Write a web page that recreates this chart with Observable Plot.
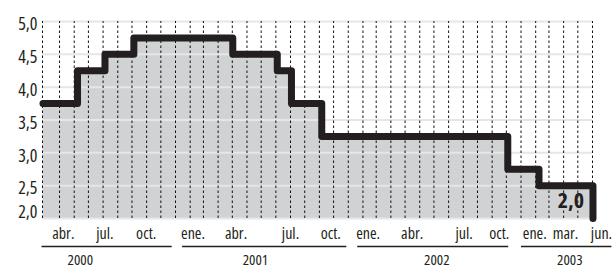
<!DOCTYPE html>
<html><head><meta charset="utf-8">
<script src="https://cdn.jsdelivr.net/npm/d3@7"></script>
<script src="https://cdn.jsdelivr.net/npm/@observablehq/plot@0.6"></script>
<style>html,body{margin:0;padding:0;background:#fff;}</style>
</head><body><div id="chart"></div>
<script>
// Step dates (change of rate) and rate values (%)
const stepDates = ["2000-03-27","2000-06-08","2000-08-05","2000-10-05","2001-05-02","2001-08-04","2001-09-03","2001-11-06","2002-12-04","2003-02-08","2003-06-02"];
const rates = [3.75, 4.25, 4.5, 4.75, 4.5, 4.25, 3.75, 3.25, 2.75, 2.5, 2.0];
const yTicks = [2, 2.5, 3, 3.5, 4, 4.5, 5];
const monthLabels = ["abr.","jul.","oct.","ene.","abr.","jul.","oct.","ene.","abr.","jul.","oct.","ene.","mar.","jun."];
const monthLabelDates = ["2000-05-09","2000-08-05","2000-10-31","2001-02-07","2001-05-09","2001-09-01","2001-11-25","2002-02-12","2002-05-16","2002-09-03","2002-11-16","2003-01-30","2003-04-05","2003-06-20"];
const years = ["2000","2001","2002","2003"];
const yearLabelDates = ["2000-06-14","2001-06-19","2002-07-07","2003-04-14"];
const yearStart = ["2000-03-25","2001-01-16","2002-01-21","2003-01-02"];
const yearEnd = ["2000-12-25","2001-12-29","2002-12-06","2003-07-12"];

const data = stepDates.map((d, i) => ({date: new Date(d), rate: rates[i]}));
const xDomain = [new Date("2000-03-26"), new Date("2003-06-01")];
const months = d3.utcMonth.range(new Date("2000-05-01"), new Date("2003-06-02"));
const gridX = [xDomain[0], ...months];
const fmt = v => v.toFixed(1).replace(".", ",");
const ink = "#231f20";
const last = data[data.length - 1];

const chart = Plot.plot({
  width: 614, height: 270,
  marginLeft: 42, marginRight: 22, marginTop: 21, marginBottom: 52,
  style: {fontFamily: '"Open Sans","Noto Sans","DejaVu Sans Condensed",sans-serif', fontStretch: "75%", background: "#fff", overflow: "visible", color: ink},
  x: {type: "utc", domain: xDomain, axis: null},
  y: {domain: [2, 5], axis: null},
  marks: [
    Plot.areaY(data, {x: "date", y1: 2, y2: "rate", curve: "step-after", fill: "#d1d2d4"}),
    Plot.ruleY(yTicks, {y: d => d, x1: () => xDomain[0], x2: () => xDomain[1], stroke: "#e6e6e6", strokeWidth: 2}),
    Plot.ruleX(gridX, {x: d => d, y1: 2, y2: 5, stroke: "#111", strokeWidth: 1, strokeDasharray: "2.5,2.5"}),
    Plot.line(data, {x: "date", y: "rate", curve: "step-after", stroke: ink, strokeWidth: 7, strokeLinejoin: "round", strokeLinecap: "round"}),
    Plot.text(yTicks.filter(v => v > 2), {x: () => xDomain[0], y: d => d, text: fmt, textAnchor: "end", dx: -5, dy: 3, fontSize: 18, fontWeight: 500, fill: ink}),
    Plot.text(yTicks.filter(v => v === 2), {x: () => xDomain[0], y: d => d, text: fmt, textAnchor: "end", dx: -5, dy: -6, fontSize: 18, fontWeight: 500, fill: ink}),
    Plot.text([last], {x: "date", y: "rate", text: d => fmt(d.rate), textAnchor: "end", dx: -9, dy: -17.5, fontSize: 22, fontWeight: "bold", fill: ink}),
    Plot.text(monthLabels, {x: (d, i) => new Date(monthLabelDates[i]), y: () => 2, text: d => d, dy: 15, fontSize: 16, fill: ink}),
    Plot.ruleY(years, {y: () => 2, x1: (d, i) => new Date(yearStart[i]), x2: (d, i) => new Date(yearEnd[i]), dy: 28, stroke: ink, strokeWidth: 1.3}),
    Plot.text(years, {x: (d, i) => new Date(yearLabelDates[i]), y: () => 2, text: d => d, dy: 42, fontSize: 15, fill: ink})
  ]
});
document.getElementById("chart").appendChild(chart);
</script>
</body></html>
